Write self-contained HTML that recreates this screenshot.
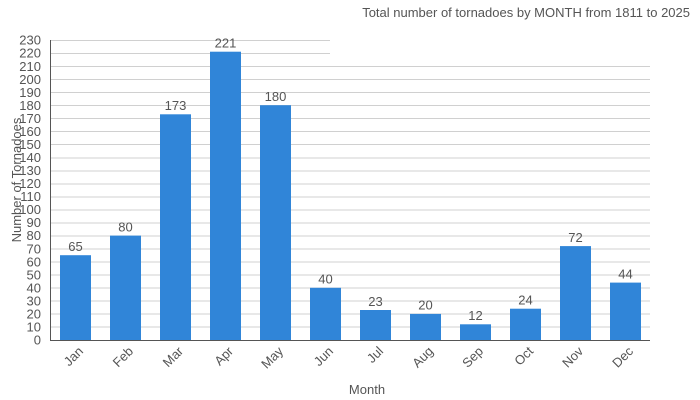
<!DOCTYPE html>
<html><head><style>body{margin:0;background:#fff}svg{display:block}text{font-family:"Liberation Sans",sans-serif;fill:#555;font-size:13px}</style></head><body>
<svg width="700" height="400" xmlns="http://www.w3.org/2000/svg">
<text x="690" y="17" text-anchor="end">Total number of tornadoes by MONTH from 1811 to 2025</text>
<g stroke="#d0d0d0" stroke-width="1">
<line x1="50" x2="650" y1="327" y2="327"/><line x1="50" x2="650" y1="314" y2="314"/><line x1="50" x2="650" y1="301" y2="301"/><line x1="50" x2="650" y1="288" y2="288"/><line x1="50" x2="650" y1="275" y2="275"/><line x1="50" x2="650" y1="262" y2="262"/><line x1="50" x2="650" y1="249" y2="249"/><line x1="50" x2="650" y1="236" y2="236"/><line x1="50" x2="650" y1="223" y2="223"/><line x1="50" x2="650" y1="210" y2="210"/><line x1="50" x2="650" y1="197" y2="197"/><line x1="50" x2="650" y1="184" y2="184"/><line x1="50" x2="650" y1="171" y2="171"/><line x1="50" x2="650" y1="158" y2="158"/><line x1="50" x2="650" y1="144.5" y2="144.5"/><line x1="50" x2="650" y1="131.5" y2="131.5"/><line x1="50" x2="650" y1="118.5" y2="118.5"/><line x1="50" x2="650" y1="105.5" y2="105.5"/><line x1="50" x2="650" y1="92.5" y2="92.5"/><line x1="50" x2="650" y1="79.5" y2="79.5"/><line x1="50" x2="650" y1="66.5" y2="66.5"/><line x1="50" x2="330" y1="53.5" y2="53.5"/><line x1="50" x2="330" y1="40.5" y2="40.5"/>
</g>
<g text-anchor="end">
<text x="41" y="344.5">0</text><text x="41" y="331.5">10</text><text x="41" y="318.5">20</text><text x="41" y="305.5">30</text><text x="41" y="292.5">40</text><text x="41" y="279.5">50</text><text x="41" y="266.5">60</text><text x="41" y="253.5">70</text><text x="41" y="240">80</text><text x="41" y="227">90</text><text x="41" y="214">100</text><text x="41" y="201">110</text><text x="41" y="188">120</text><text x="41" y="175">130</text><text x="41" y="162">140</text><text x="41" y="149">150</text><text x="41" y="136">160</text><text x="41" y="123">170</text><text x="41" y="110">180</text><text x="41" y="97">190</text><text x="41" y="84">200</text><text x="41" y="71">210</text><text x="41" y="57.5">220</text><text x="41" y="44.5">230</text>
</g>
<g fill="#3085d8">
<rect x="60" y="255.2" width="31" height="84.8"/><rect x="110" y="235.6" width="31" height="104.4"/><rect x="160" y="114.3" width="31" height="225.7"/><rect x="210" y="51.7" width="31" height="288.3"/><rect x="260" y="105.2" width="31" height="234.8"/><rect x="310" y="287.8" width="31" height="52.2"/><rect x="360" y="310" width="31" height="30"/><rect x="410" y="313.9" width="31" height="26.1"/><rect x="460" y="324.3" width="31" height="15.7"/><rect x="510" y="308.7" width="31" height="31.3"/><rect x="560" y="246.1" width="31" height="93.9"/><rect x="610" y="282.6" width="31" height="57.4"/>
</g>
<g text-anchor="middle">
<text x="75.5" y="251">65</text><text x="125.5" y="231.5">80</text><text x="175.5" y="110">173</text><text x="225.5" y="47.5">221</text><text x="275.5" y="101">180</text><text x="325.5" y="283.5">40</text><text x="375.5" y="306">23</text><text x="425.5" y="309.5">20</text><text x="475.5" y="320">12</text><text x="525.5" y="304.5">24</text><text x="575.5" y="242">72</text><text x="625.5" y="278.5">44</text>
</g>
<g text-anchor="end">
<text transform="translate(84,352) rotate(-45)">Jan</text><text transform="translate(134,352) rotate(-45)">Feb</text><text transform="translate(184,352) rotate(-45)">Mar</text><text transform="translate(234,352) rotate(-45)">Apr</text><text transform="translate(284,352) rotate(-45)">May</text><text transform="translate(334,352) rotate(-45)">Jun</text><text transform="translate(384,352) rotate(-45)">Jul</text><text transform="translate(434,352) rotate(-45)">Aug</text><text transform="translate(484,352) rotate(-45)">Sep</text><text transform="translate(534,352) rotate(-45)">Oct</text><text transform="translate(584,352) rotate(-45)">Nov</text><text transform="translate(634,352) rotate(-45)">Dec</text>
</g>
<line x1="50.5" x2="50.5" y1="40" y2="341" stroke="#555"/><line x1="50" x2="650" y1="340.5" y2="340.5" stroke="#555"/>
<text x="367" y="394" text-anchor="middle">Month</text>
<text transform="translate(21,180) rotate(-90)" text-anchor="middle">Number of Tornadoes</text>
</svg></body></html>
